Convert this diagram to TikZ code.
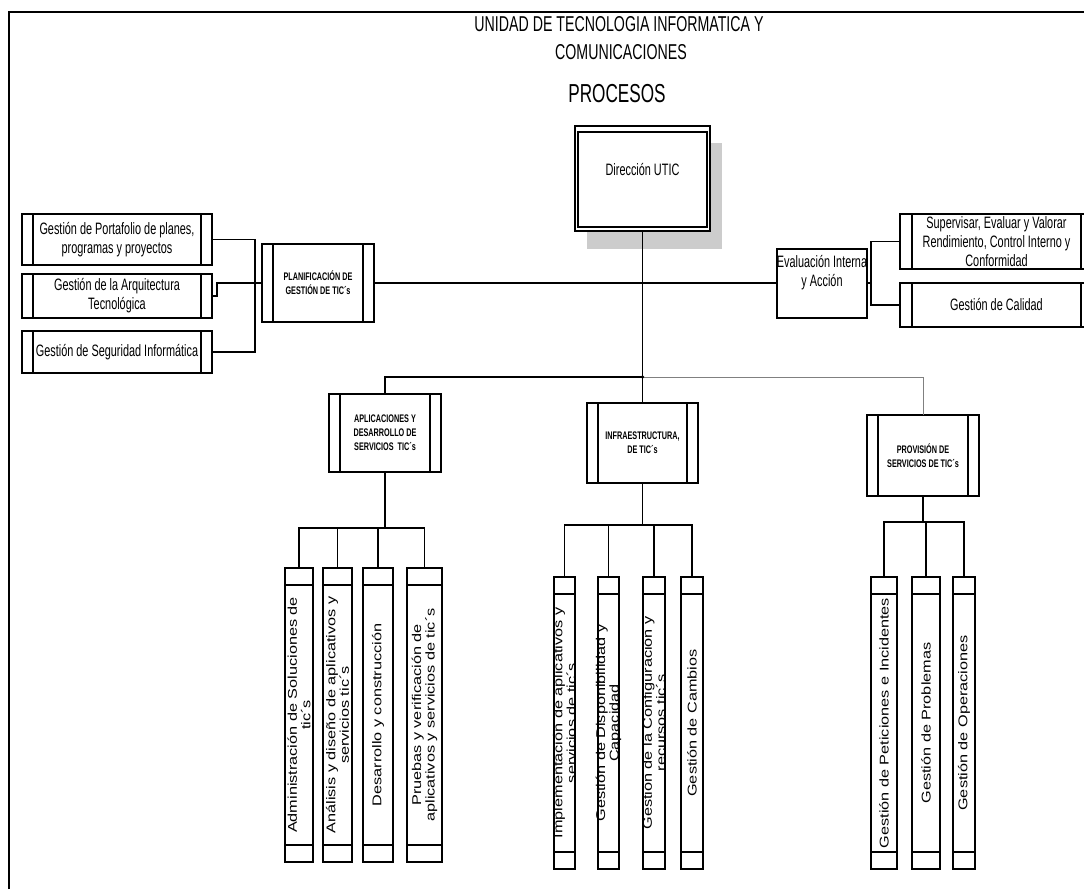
\documentclass[tikz,border=0pt]{standalone}
\usepackage{fontspec}
\setmainfont{Liberation Sans}
\newfontfamily\narrowfont[FakeStretch=0.66]{Liberation Sans}
\newfontfamily\longfont[FakeStretch=1.28]{Liberation Sans}
\begin{document}
\begin{tikzpicture}[x=1pt,y=-1pt,line width=1.2pt,
  every node/.style={inner sep=0pt,outer sep=0pt},
  txt/.style={font=\narrowfont\fontsize{16.5}{19}\selectfont,align=center},
  captxt/.style={font=\narrowfont\bfseries\fontsize{11}{14}\selectfont,align=center},
  vtxt/.style={font=\longfont\fontsize{12.7}{13.5}\selectfont,align=center},
  plainbox/.style={draw,fill=white,rectangle},
  procbox/.style={draw,fill=white,rectangle,path picture={
    \draw ([xshift=#1]path picture bounding box.north west) -- ([xshift=#1]path picture bounding box.south west);
    \draw ([xshift=-#1]path picture bounding box.north east) -- ([xshift=-#1]path picture bounding box.south east);}},
  procbox/.default=11pt,
  colbox/.style={draw,fill=white,rectangle,path picture={
    \draw ([yshift=-17pt]path picture bounding box.north west) -- ([yshift=-17pt]path picture bounding box.north east);
    \draw ([yshift=17pt]path picture bounding box.south west) -- ([yshift=17pt]path picture bounding box.south east);}},
  dirbox/.style={draw,fill=white,rectangle,path picture={
    \draw ([shift={(3pt,-6pt)}]path picture bounding box.north west) rectangle ([shift={(-3pt,4pt)}]path picture bounding box.south east);}}
]
\clip (0,0) rectangle (1084,889);
\useasboundingbox (0,0) rectangle (1084,889);
\fill[white] (0,0) rectangle (1084,889);

% page frame
\draw[line width=1.3pt] (9,889) -- (9,12) -- (1084,12);

% headings
\node[font=\narrowfont\fontsize{21.5}{24}\selectfont] (t1) at (619,24.5) {UNIDAD DE TECNOLOGIA INFORMATICA Y};
\node[font=\narrowfont\fontsize{21.5}{24}\selectfont] (t2) at (621,52.5) {COMUNICACIONES};
\node[font=\narrowfont\fontsize{26}{28}\selectfont] (t3) at (617,94) {PROCESOS};

% top management box with shadow
\fill[gray!40] (587,143) rectangle (722,249);
\node[dirbox,minimum width=135pt,minimum height=105pt] (dir) at (642.5,178.5) {};
\node[txt,yshift=-44pt] (dirtxt) at (dir.north) {Dirección UTIC};

% planning branch
\node[procbox,minimum width=190pt,minimum height=51pt] (lb1) at (117,239.5) {};
\node[txt] (lb1t) at (lb1.center) {Gestión de Portafolio de planes,\\programas y proyectos};
\node[procbox,minimum width=190pt,minimum height=44pt] (lb2) at (117,296) {};
\node[txt] (lb2t) at (lb2.center) {Gestión de la Arquitectura\\Tecnológica};
\node[procbox,minimum width=190pt,minimum height=42pt] (lb3) at (117,352) {};
\node[txt] (lb3t) at (lb3.center) {Gestión de Seguridad Informática};
\node[procbox,minimum width=112pt,minimum height=78pt] (plan) at (318,283) {};
\node[captxt] (plant) at (plan.center) {PLANIFICACIÓN DE\\GESTIÓN DE TIC´s};

% evaluation branch
\node[plainbox,minimum width=90pt,minimum height=69pt] (eval) at (822,283.5) {};
\node[txt,yshift=-23.5pt] (evalt) at (eval.north) {Evaluación Interna\\y Acción};
\node[procbox=12pt,minimum width=193pt,minimum height=55pt] (rb1) at (996.5,241.5) {};
\node[txt] (rb1t) at (rb1.center) {Supervisar, Evaluar y Valorar\\Rendimiento, Control Interno y\\Conformidad};
\node[procbox=12pt,minimum width=193pt,minimum height=44pt] (rb2) at (996.5,305) {};
\node[txt] (rb2t) at (rb2.center) {Gestión de Calidad};

% second level process groups
\node[procbox,minimum width=112pt,minimum height=78pt] (apl) at (385,433) {};
\node[captxt] (aplt) at (apl.center) {APLICACIONES Y\\DESARROLLO DE\\SERVICIOS\ \ TIC´s};
\node[procbox,minimum width=111pt,minimum height=80pt] (inf) at (642.5,443) {};
\node[captxt] (inft) at (inf.center) {INFRAESTRUCTURA,\\DE TIC´s};
\node[procbox,minimum width=112pt,minimum height=81pt] (prov) at (923,455.5) {};
\node[captxt] (provt) at (prov.center) {PROVISIÓN DE\\SERVICIOS DE TIC´s};

% application processes
\node[colbox,minimum width=28pt,minimum height=294pt] (a1) at (299,715) {};
\node[colbox,minimum width=29pt,minimum height=294pt] (a2) at (337.5,715) {};
\node[colbox,minimum width=30pt,minimum height=294pt] (a3) at (378,715) {};
\node[colbox,minimum width=35pt,minimum height=294pt] (a4) at (424.5,715) {};
\node[vtxt,rotate=90] (a1t) at (a1.center) {Administración de Soluciones de\\tic´s};
\node[vtxt,rotate=90] (a2t) at (a2.center) {Análisis y diseño de aplicativos y\\servicios tic´s};
\node[vtxt,rotate=90] (a3t) at (a3.center) {Desarrollo y construcción};
\node[vtxt,rotate=90] (a4t) at (a4.center) {Pruebas y verificación de\\aplicativos y servicios de tic´s};

% infrastructure processes
\node[colbox,minimum width=21pt,minimum height=292pt] (i1) at (564.5,723) {};
\node[colbox,minimum width=21pt,minimum height=292pt] (i2) at (608.5,723) {};
\node[colbox,minimum width=22pt,minimum height=292pt] (i3) at (654,723) {};
\node[colbox,minimum width=22pt,minimum height=292pt] (i4) at (692,723) {};
\node[vtxt,rotate=90] (i1t) at (i1.center) {Implementación de aplicativos y\\servicios de tic´s};
\node[vtxt,rotate=90] (i2t) at (i2.center) {Gestión de Disponibilidad y\\Capacidad};
\node[vtxt,rotate=90] (i3t) at (i3.center) {Gestión de la Configuración y\\recursos tic´s};
\node[vtxt,rotate=90] (i4t) at (i4.center) {Gestión de Cambios};

% service provision processes
\node[colbox,minimum width=26pt,minimum height=292pt] (p1) at (884,723) {};
\node[colbox,minimum width=28pt,minimum height=292pt] (p2) at (926,723) {};
\node[colbox,minimum width=22pt,minimum height=292pt] (p3) at (964,723) {};
\node[vtxt,rotate=90] (p1t) at (p1.center) {Gestión de Peticiones e Incidentes};
\node[vtxt,rotate=90] (p2t) at (p2.center) {Gestión de Problemas};
\node[vtxt,rotate=90] (p3t) at (p3.center) {Gestión de Operaciones};

% connectors: planning
\coordinate (lbus) at (255,283);
\draw (lb1.east) -| (lbus);
\draw (lb2.east) -- ++(5,0) |- (lbus);
\draw (lb3.east) -| (lbus);
\draw (lbus) -- (plan.west);
\draw (plan.east) -- (plan.east -| eval.west);

% connectors: evaluation
\coordinate (rbus) at (871,283);
\draw (eval.east |- rbus) -- (rbus);
\draw (rbus) |- (rb1.west);
\draw (rbus) |- (rb2.west);

% connectors: management to groups
\coordinate (hub) at (642.5,377);
\draw (dir.south) -- (hub);
\draw (hub) -| (apl.north);
\draw (hub) -- (inf.north);
\draw[gray,line width=1pt] (hub) -| (prov.north);
\fill (hub) circle (1.8pt);

% connectors: group to processes
\coordinate (abus) at (385,528);
\draw (apl.south) -- (abus);
\draw (a1.north) |- (a4.north |- abus) -- (a4.north);
\draw (a2.north) -- (a2.north |- abus);
\draw (a3.north) -- (a3.north |- abus);

\coordinate (ibus) at (642.5,525);
\draw (inf.south) -- (ibus);
\draw (i1.north) |- (i4.north |- ibus) -- (i4.north);
\draw (i2.north) -- (i2.north |- ibus);
\draw (i3.north) -- (i3.north |- ibus);

\coordinate (pbus) at (923,522);
\draw (prov.south) -- (pbus);
\draw (p1.north) |- (p3.north |- pbus) -- (p3.north);
\draw (p2.north) -- (p2.north |- pbus);
\end{tikzpicture}
\end{document}
